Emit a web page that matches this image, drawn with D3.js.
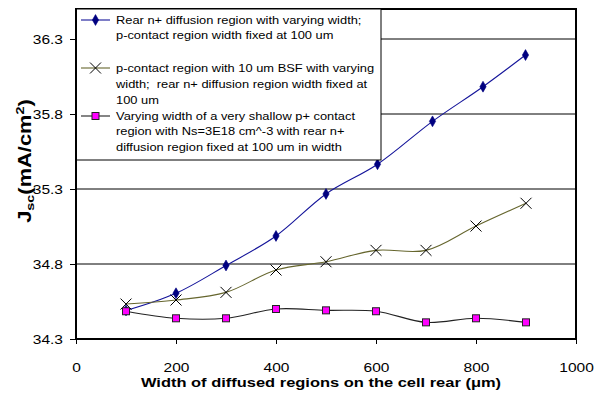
<!DOCTYPE html>
<html>
<head>
<meta charset="utf-8">
<script src="https://cdn.jsdelivr.net/npm/d3@7"></script>
<style>
  body { margin: 0; background: #fff; }
  svg { display: block; font-family: Arial, "Liberation Sans", sans-serif; }
  text { white-space: pre; }
</style>
</head>
<body>
<svg id="chart" width="595" height="394"></svg>
<script>
// Jsc versus width of the diffused regions on the cell rear
const rearWidths   = [100, 200, 300, 400, 500, 603, 713, 814, 899];
const rearJsc      = [34.49, 34.605, 34.79, 34.987, 35.267, 35.465, 35.751, 35.982, 36.193];
const bsfWidths    = [100, 200, 300, 400, 500, 600, 700, 800, 900];
const bsfJsc       = [34.533, 34.56, 34.611, 34.76, 34.815, 34.891, 34.891, 35.053, 35.205];
const shallowWidths = [100, 200, 300, 400, 500, 600, 700, 800, 900];
const shallowJsc   = [34.485, 34.438, 34.438, 34.5, 34.491, 34.485, 34.411, 34.438, 34.411];

const xTicks = [0, 200, 400, 600, 800, 1000];
const yTicks = [34.3, 34.8, 35.3, 35.8, 36.3];

const legendLines = [
  ["Rear n+ diffusion region with varying width;", "p-contact region width fixed at 100 um"],
  ["p-contact region with 10 um BSF with varying", "width;  rear n+ diffusion region width fixed at", "100 um"],
  ["Varying width of a very shallow p+ contact", "region with Ns=3E18 cm^-3 with rear n+", "diffusion region fixed at 100 um in width"]
];

const SX = 1.22; // horizontal text stretch
const plot = { left: 76, right: 576, top: 9, bottom: 339 };

const svg = d3.select("#chart");
const x = d3.scaleLinear().domain([0, 1000]).range([plot.left, plot.right]);
const y = d3.scaleLinear().domain([34.3, 36.5]).range([plot.bottom, plot.top]);

function stretchedText(parent, tx, ty, str, opts = {}) {
  const t = parent.append("text")
    .attr("transform", `translate(${tx},${ty}) scale(${opts.sx || SX},1)`)
    .attr("font-size", opts.size || 12)
    .attr("font-weight", opts.weight || "normal")
    .attr("text-anchor", opts.anchor || "start")
    .attr("fill", "#000")
    .text(str);
  return t;
}

// gridlines
svg.append("g").selectAll("line").data(yTicks.slice(1)).join("line")
  .attr("x1", plot.left).attr("x2", plot.right)
  .attr("y1", d => y(d)).attr("y2", d => y(d))
  .attr("stroke", "#000").attr("stroke-width", 1);

// plot frame (top and right)
svg.append("path")
  .attr("d", `M${plot.left},${plot.top}H${plot.right}V${plot.bottom}`)
  .attr("fill", "none").attr("stroke", "#000").attr("stroke-width", 2);

const curve = d3.curveCatmullRom.alpha(0.5);
const series = [
  { xs: rearWidths, ys: rearJsc, line: "#14149a", marker: "diamond" },
  { xs: bsfWidths, ys: bsfJsc, line: "#66662e", marker: "cross" },
  { xs: shallowWidths, ys: shallowJsc, line: "#222", marker: "square" }
];

function drawMarker(g, kind, cx, cy) {
  if (kind === "diamond") {
    g.append("path").attr("d", d3.symbol(d3.symbolDiamond, 34)())
      .attr("transform", `translate(${cx},${cy})`)
      .attr("fill", "#000080").attr("stroke", "#000080").attr("stroke-width", 0.6);
  } else if (kind === "cross") {
    const r = 5.5;
    g.append("path")
      .attr("d", `M${cx - r},${cy - r}L${cx + r},${cy + r}M${cx - r},${cy + r}L${cx + r},${cy - r}`)
      .attr("stroke", "#000").attr("stroke-width", 1).attr("fill", "none");
  } else {
    g.append("rect").attr("x", cx - 3.5).attr("y", cy - 3.5).attr("width", 7).attr("height", 7)
      .attr("fill", "#ff00ff").attr("stroke", "#222").attr("stroke-width", 1);
  }
}

series.forEach(s => {
  const pts = s.xs.map((d, i) => [x(d), y(s.ys[i])]);
  svg.append("path").attr("d", d3.line().curve(curve)(pts))
    .attr("fill", "none").attr("stroke", s.line).attr("stroke-width", 1.1);
  const g = svg.append("g");
  pts.forEach(p => drawMarker(g, s.marker, p[0], p[1]));
});

// legend
const lg = svg.append("g");
lg.append("rect").attr("x", 76).attr("y", 9).attr("width", 305).attr("height", 151)
  .attr("fill", "#fff").attr("stroke", "#000").attr("stroke-width", 1);
const entryRows = [[20, 35], [68, 84, 100], [116, 131, 147]];
legendLines.forEach((lines, i) => {
  const s = series[i];
  const cy = entryRows[i][0];
  lg.append("line").attr("x1", 81).attr("x2", 110).attr("y1", cy).attr("y2", cy)
    .attr("stroke", s.line).attr("stroke-width", 1.1);
  drawMarker(lg, s.marker, 95.5, cy);
  lines.forEach((str, j) => {
    stretchedText(lg, 116, entryRows[i][j] + 3.9, str, { size: 11, sx: 1.17 });
  });
});

// axes
const TSX = 1.15;
const xAxis = svg.append("g").attr("transform", `translate(0,${plot.bottom})`)
  .call(d3.axisBottom(x).tickValues(xTicks).tickSize(5).tickFormat(d3.format("d")));
xAxis.select(".domain").attr("stroke", "#000").attr("stroke-width", 2)
  .attr("d", `M${plot.left - 1},0H${plot.right + 1}`);
xAxis.selectAll(".tick line").attr("stroke", "#000");
xAxis.selectAll(".tick text")
  .attr("font-family", null).attr("font-size", 13.5).attr("fill", "#000")
  .attr("dy", null).attr("y", 0)
  .attr("transform", `translate(0,33) scale(${TSX},1)`);

const yAxis = svg.append("g").attr("transform", `translate(${plot.left},0)`)
  .call(d3.axisLeft(y).tickValues(yTicks).tickSize(6).tickFormat(d3.format(".1f")));
yAxis.select(".domain").attr("stroke", "#000").attr("stroke-width", 2)
  .attr("d", `M0,${plot.top - 1}V${plot.bottom + 1}`);
yAxis.selectAll(".tick line").attr("stroke", "#000");
yAxis.selectAll(".tick text")
  .attr("font-family", null).attr("font-size", 13.5).attr("fill", "#000")
  .attr("x", 0).attr("dy", "0.36em")
  .attr("transform", `translate(-13,0) scale(${TSX},1)`);

// axis titles
stretchedText(svg, (plot.left + plot.right) / 2 - 5, 387,
  "Width of diffused regions on the cell rear (\u03bcm)", { size: 13.5, weight: "bold", anchor: "middle" });

const yt = svg.append("text")
  .attr("transform", `translate(31,161) rotate(-90) scale(1.25,1)`)
  .attr("text-anchor", "middle").attr("font-weight", "bold").attr("font-size", 17.5).attr("fill", "#000");
yt.append("tspan").text("J");
yt.append("tspan").attr("font-size", 11.5).attr("dy", 3).text("sc");
yt.append("tspan").attr("dy", -3).text("(mA/cm");
yt.append("tspan").attr("font-size", 11.5).attr("dy", -7).text("2");
yt.append("tspan").attr("dy", 7).text(")");
</script>
</body>
</html>
